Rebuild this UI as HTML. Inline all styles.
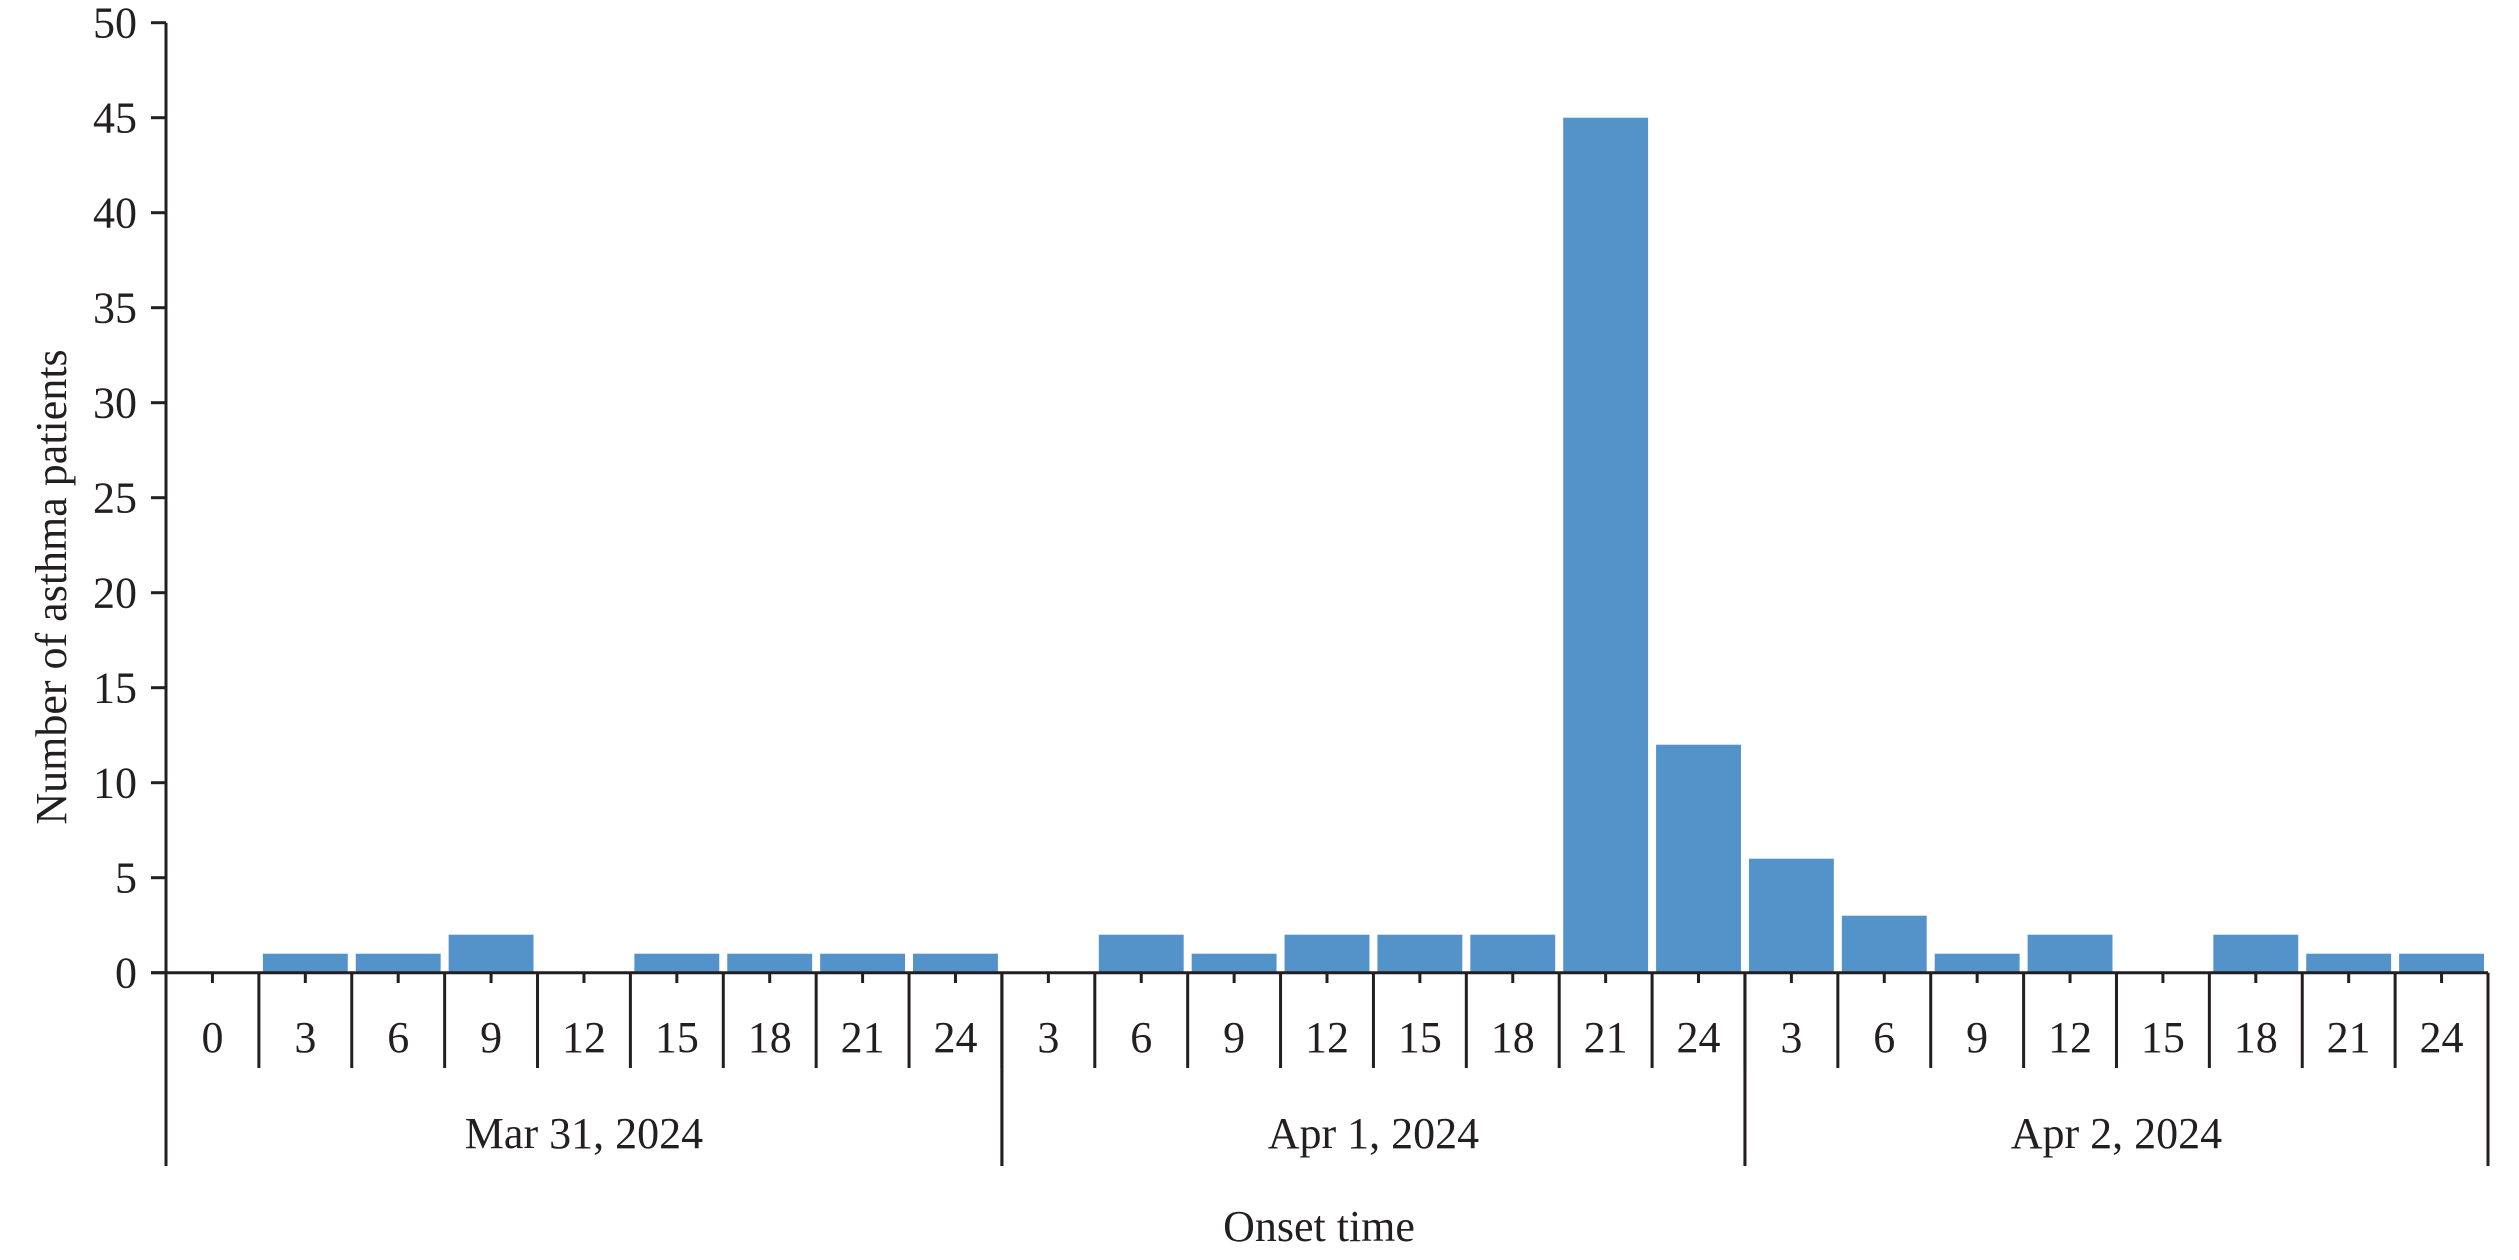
<!DOCTYPE html>
<html><head><meta charset="utf-8"><style>
body{margin:0;background:#fff}
svg text{font-family:"Liberation Serif",serif;fill:#231f20}
</style></head><body>
<svg id="chart" width="2519" height="1255" viewBox="0 0 2519 1255" xmlns="http://www.w3.org/2000/svg"></svg>
<script>
const hours = ["0","3","6","9","12","15","18","21","24","3","6","9","12","15","18","21","24","3","6","9","12","15","18","21","24"];
const counts = [0,1,1,2,0,1,1,1,1, 0,2,1,2,2,2,45,12, 6,3,1,2,0,2,1,1];
const dates = ["Mar 31, 2024","Apr 1, 2024","Apr 2, 2024"];
const dateSpans = [[0,9],[9,17],[17,25]];
const yTicks = [0,5,10,15,20,25,30,35,40,45,50];

const svg = document.getElementById('chart');
const NS = "http://www.w3.org/2000/svg";
const X0 = 166, X1 = 2488, Y0 = 972.7, YTOP = 22.7, YMAX = 50;
const slot = (X1 - X0) / hours.length;
const xs = i => X0 + i * slot;
const ys = v => Y0 - (v / YMAX) * (Y0 - YTOP);
function mk(tag, attrs, parent){const e=document.createElementNS(NS,tag);for(const k in attrs)e.setAttribute(k,attrs[k]);(parent||svg).appendChild(e);return e;}

const bars = mk('g',{});


counts.forEach((v,i)=>{
  if(v<=0) return;
  const r = mk('rect',{x:xs(i)+4,y:ys(v),width:slot-8,height:Y0-ys(v),fill:'#5393c9'},bars);
  
  
});

const ax = mk('g',{stroke:'#231f20','stroke-width':3,fill:'none'});


mk('line',{x1:X0,y1:YTOP,x2:X0,y2:Y0},ax);
mk('line',{x1:X0-15,y1:Y0,x2:X1,y2:Y0},ax);
yTicks.forEach(t=>{
  mk('line',{x1:X0-15,y1:ys(t),x2:X0,y2:ys(t)},ax);
  const tx = mk('text',{x:137,y:ys(t)+15,'text-anchor':'end','font-size':44});
  tx.textContent=t;
  
  
});
hours.forEach((h,i)=>{
  const c = xs(i)+slot/2;
  mk('line',{x1:c,y1:Y0,x2:c,y2:983},ax);
  if(i>0) mk('line',{x1:xs(i),y1:Y0,x2:xs(i),y2:1068},ax);
  const tx = mk('text',{x:c,y:1052,'text-anchor':'middle','font-size':44});
  tx.textContent=h;
  
  
});
dateSpans.forEach((s,k)=>{
  mk('line',{x1:xs(s[0]),y1:Y0,x2:xs(s[0]),y2:1166},ax);
  mk('line',{x1:xs(s[1]),y1:Y0,x2:xs(s[1]),y2:1166},ax);
  const tx = mk('text',{x:(xs(s[0])+xs(s[1]))/2,y:1148,'text-anchor':'middle','font-size':44});
  tx.textContent=dates[k];
  
  
});
const xt = mk('text',{x:1319,y:1241,'text-anchor':'middle','font-size':44});
xt.textContent='Onset time';


const yt = mk('text',{x:0,y:0,'text-anchor':'middle','font-size':44,transform:'translate(66,587) rotate(-90)'});
yt.textContent='Number of asthma patients';


</script>
</body></html>
